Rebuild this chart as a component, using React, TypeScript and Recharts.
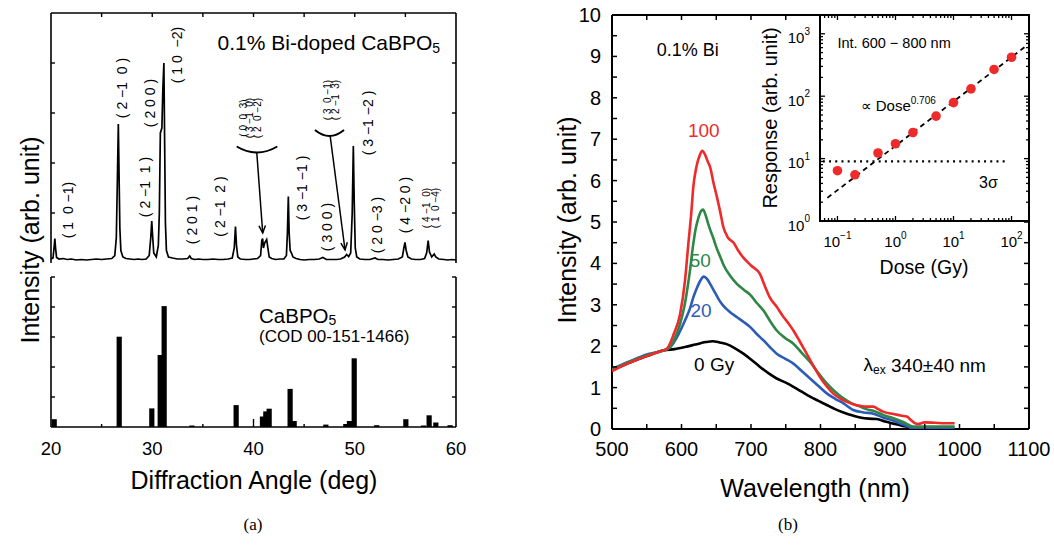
import React from 'react';
import {
  ComposedChart, Line, Bar, Scatter, XAxis, YAxis,
  ReferenceLine, ReferenceDot, ReferenceArea,
} from 'recharts';

const FONT = '"Liberation Sans", Arial, Helvetica, sans-serif';
const SERIF = '"Liberation Serif", "Times New Roman", serif';

// ---------------- (a) XRD data ----------------
const xrdMeasured: [number, number][] = [
  [20.0, 0.08], [20.2, 0.1], [20.3, 0.3], [20.38, 0.49], [20.45, 0.3], [20.55, 0.11],
  [20.8, 0.08], [21.2, 0.09], [21.6, 0.07], [22.0, 0.08], [22.5, 0.06], [23.0, 0.07],
  [23.5, 0.06], [24.0, 0.07], [24.5, 0.08], [25.0, 0.07], [25.5, 0.08], [26.0, 0.09],
  [26.3, 0.15], [26.45, 0.5], [26.55, 1.6], [26.65, 2.78], [26.72, 1.8], [26.8, 0.7],
  [26.9, 0.25], [27.1, 0.12], [27.4, 0.09], [27.8, 0.08], [28.2, 0.07], [28.6, 0.08],
  [29.0, 0.07], [29.4, 0.08], [29.7, 0.15], [29.85, 0.5], [29.95, 0.84], [30.05, 0.5],
  [30.15, 0.2], [30.4, 0.12], [30.6, 0.35], [30.7, 1.0], [30.8, 2.6], [30.95, 2.7],
  [31.05, 3.5], [31.15, 4.0], [31.22, 2.5], [31.3, 0.8], [31.4, 0.25], [31.6, 0.12],
  [32.0, 0.1], [32.5, 0.08], [33.0, 0.08], [33.5, 0.09], [33.7, 0.14], [33.85, 0.09],
  [34.2, 0.07], [34.6, 0.08], [35.0, 0.07], [35.5, 0.07], [36.0, 0.08], [36.5, 0.07],
  [37.0, 0.07], [37.5, 0.08], [37.9, 0.1], [38.1, 0.3], [38.22, 0.73], [38.32, 0.35],
  [38.45, 0.12], [38.7, 0.08], [39.2, 0.07], [39.6, 0.07], [40.0, 0.08], [40.4, 0.09],
  [40.7, 0.15], [40.82, 0.45], [40.9, 0.49], [40.98, 0.3], [41.1, 0.4], [41.3, 0.47],
  [41.42, 0.3], [41.55, 0.12], [41.8, 0.09], [42.2, 0.07], [42.6, 0.08], [43.0, 0.08],
  [43.25, 0.15], [43.35, 0.6], [43.44, 1.33], [43.52, 0.6], [43.62, 0.25], [43.75, 0.2],
  [43.9, 0.12], [44.2, 0.09], [44.6, 0.07], [45.0, 0.06], [45.5, 0.07], [46.0, 0.07],
  [46.5, 0.08], [46.85, 0.11], [47.2, 0.07], [47.7, 0.07], [48.2, 0.07], [48.6, 0.08],
  [49.0, 0.12], [49.2, 0.17], [49.4, 0.13], [49.6, 0.2], [49.75, 1.0], [49.86, 2.34],
  [49.95, 1.2], [50.05, 0.3], [50.2, 0.12], [50.5, 0.08], [51.0, 0.07], [51.5, 0.07],
  [52.0, 0.1], [52.3, 0.07], [52.8, 0.07], [53.3, 0.06], [53.8, 0.07], [54.3, 0.08],
  [54.7, 0.12], [54.85, 0.3], [54.96, 0.41], [55.08, 0.25], [55.25, 0.12], [55.6, 0.08],
  [56.0, 0.07], [56.5, 0.07], [56.9, 0.09], [57.1, 0.2], [57.25, 0.45], [57.38, 0.22],
  [57.6, 0.12], [57.85, 0.18], [58.0, 0.12], [58.3, 0.08], [58.8, 0.07], [59.2, 0.06],
  [59.6, 0.07], [60.0, 0.06],
];

const codAngle = [20.3, 26.72, 29.94, 30.77, 31.16, 33.9, 38.27, 40.87, 41.2, 41.53, 43.6, 44.0,
  47.13, 49.1, 49.46, 49.93, 52.16, 55.03, 56.77, 57.33, 57.99, 59.4];
const codIntensity = [0.26, 3.01, 0.62, 2.4, 4.03, 0.05, 0.73, 0.35, 0.52, 0.61, 1.27, 0.2,
  0.08, 0.1, 0.2, 2.29, 0.06, 0.26, 0.05, 0.39, 0.15, 0.06];

const xrdTopTicks = [25, 30, 35, 40, 45, 50, 55];
const xrdBottomTicks = [20, 25, 30, 35, 40, 45, 50, 55, 60];
const xrdTopYTicks = [1, 2, 3, 4];
const xrdBottomYTicks = [1, 2, 3, 4, 5];

type Hkl = { text: string; angle: number; level: number; small?: boolean };
const hklLabels: Hkl[] = [
  { text: '( 1  0 −1)', angle: 21.71, level: 1.06 },
  { text: '( 2 −1  0 )', angle: 26.98, level: 3.5 },
  { text: '( 2 −1  1 )', angle: 29.28, level: 1.52 },
  { text: '( 2 0 0 )', angle: 29.78, level: 3.2 },
  { text: '( 1 0  −2)', angle: 32.41, level: 4.16 },
  { text: '( 2 0 1 )', angle: 33.9, level: 0.86 },
  { text: '( 2 −1  2 )', angle: 36.69, level: 1.13 },
  { text: '( 0  0  3)', angle: 38.99, level: 2.9, small: true },
  { text: '( 3 −1  0)', angle: 39.65, level: 2.9, small: true },
  { text: '( 2  0 −2)', angle: 40.37, level: 2.9, small: true },
  { text: '( 3 −1 −1 )', angle: 44.76, level: 1.5 },
  { text: '( 3 0 0 )', angle: 47.23, level: 0.72 },
  { text: '( 3  0 −1)', angle: 47.33, level: 3.26, small: true },
  { text: '( 2 −1  3)', angle: 48.05, level: 3.26, small: true },
  { text: '( 3 −1 −2 )', angle: 51.34, level: 2.8 },
  { text: '( 2 0 −3 )', angle: 52.17, level: 0.76 },
  { text: '( 4 −2 0 )', angle: 54.96, level: 1.16 },
  { text: '( 4 −1  0)', angle: 57.1, level: 1.1, small: true },
  { text: '( 1  0 −4)', angle: 58.02, level: 1.1, small: true },
];

const braceSegments = [
  [{ x: 38.34, y: 2.33 }, { x: 42.35, y: 2.33 }],
  [{ x: 46.07, y: 2.66 }, { x: 48.94, y: 2.66 }],
];
const arrowSegments = [
  [{ x: 40.32, y: 2.22 }, { x: 40.91, y: 0.6 }],
  [{ x: 47.56, y: 2.56 }, { x: 49.04, y: 0.26 }],
];

// ---------------- (b) spectra data ----------------
const spec0Gy: [number, number][] = [
  [500, 1.42], [525, 1.6], [550, 1.76], [575, 1.9], [590, 1.93], [605, 1.98], [620, 2.04],
  [635, 2.1], [645, 2.12], [655, 2.09], [665, 2.05], [677, 1.95], [689, 1.82], [700, 1.68],
  [713, 1.5], [725, 1.35], [737, 1.22], [750, 1.12], [761, 1.02], [773, 0.9], [785, 0.78],
  [797, 0.68], [809, 0.58], [821, 0.48], [833, 0.4], [845, 0.33], [857, 0.28], [870, 0.25],
  [881, 0.24], [893, 0.18], [905, 0.13], [917, 0.08], [929, 0.04], [938, 0.01], [960, 0.0],
  [993, 0.0],
];
const spec20Gy: [number, number][] = [
  [500, 1.45], [525, 1.63], [550, 1.8], [570, 1.88], [584, 1.98], [596, 2.3], [605, 2.62],
  [612, 2.9], [617, 3.18], [622, 3.4], [627, 3.58], [632, 3.68], [637, 3.62], [642, 3.48],
  [648, 3.3], [654, 3.12], [660, 2.98], [670, 2.82], [680, 2.7], [690, 2.58], [699, 2.46],
  [708, 2.3], [718, 2.14], [727, 1.98], [737, 1.82], [749, 1.7], [761, 1.58], [773, 1.4],
  [785, 1.22], [797, 1.04], [809, 0.86], [821, 0.73], [833, 0.62], [847, 0.46], [862, 0.4],
  [876, 0.37], [890, 0.28], [905, 0.2], [919, 0.11], [933, 0.02], [945, 0.02], [993, 0.02],
];
const spec50Gy: [number, number][] = [
  [500, 1.43], [525, 1.62], [550, 1.78], [570, 1.88], [580, 1.93], [589, 2.14], [598, 2.54],
  [604, 2.95], [608, 3.34], [612, 3.8], [616, 4.35], [620, 4.8], [624, 5.08], [628, 5.26],
  [631, 5.3], [634, 5.2], [638, 4.98], [642, 4.78], [646, 4.6], [651, 4.35], [656, 4.15],
  [660, 3.98], [670, 3.7], [680, 3.5], [690, 3.36], [699, 3.24], [708, 3.05], [718, 2.86],
  [727, 2.62], [737, 2.38], [749, 2.2], [761, 2.06], [773, 1.84], [785, 1.62], [797, 1.35],
  [809, 1.1], [821, 0.9], [833, 0.74], [845, 0.62], [857, 0.54], [866, 0.48], [876, 0.44],
  [890, 0.34], [905, 0.26], [919, 0.17], [933, 0.06], [945, 0.06], [993, 0.06],
];
const spec100Gy: [number, number][] = [
  [500, 1.4], [525, 1.6], [550, 1.76], [570, 1.88], [579, 1.94], [589, 2.3], [598, 2.78],
  [605, 3.58], [610, 4.5], [614, 5.2], [617, 5.85], [621, 6.3], [626, 6.6], [630, 6.72],
  [634, 6.62], [638, 6.45], [641, 6.34], [646, 5.95], [651, 5.6], [656, 5.22], [660, 4.89],
  [667, 4.62], [675, 4.5], [682, 4.3], [689, 4.14], [700, 3.95], [713, 3.74], [720, 3.45],
  [727, 3.18], [737, 2.95], [747, 2.7], [754, 2.55], [761, 2.38], [770, 2.12], [780, 1.82],
  [790, 1.52], [799, 1.26], [808, 1.05], [818, 0.86], [828, 0.74], [837, 0.66], [847, 0.6],
  [857, 0.56], [866, 0.54], [876, 0.54], [883, 0.48], [890, 0.42], [905, 0.36], [917, 0.32],
  [924, 0.3], [930, 0.22], [935, 0.15], [940, 0.12], [950, 0.16], [965, 0.15], [980, 0.14],
  [993, 0.14],
];
const wlTicks = [500, 550, 600, 650, 700, 750, 800, 850, 900, 950, 1000, 1050, 1100];
const intTicks = [0, 0.5, 1, 1.5, 2, 2.5, 3, 3.5, 4, 4.5, 5, 5.5, 6, 6.5, 7, 7.5, 8, 8.5, 9, 9.5, 10];

// inset
const doseGy = [0.1, 0.2, 0.5, 1, 2, 5, 10, 20, 50, 100];
const responseVal = [6.4, 5.5, 12.3, 17.3, 26.2, 48, 79, 131, 268, 421];
const fitLine: [number, number][] = [[0.067, 2.35], [181, 643]];
const sigmaLine: [number, number][] = [[0.056, 9.0], [85, 9.0]];
const doseDecades = [0.1, 1, 10, 100];
const respDecades = [1, 10, 100, 1000];
const doseTicks = [0.05, 0.06, 0.07, 0.08, 0.09, 0.1, 0.2, 0.3, 0.4, 0.5, 0.6, 0.7, 0.8, 0.9,
  1, 2, 3, 4, 5, 6, 7, 8, 9, 10, 20, 30, 40, 50, 60, 70, 80, 90, 100, 200];
const respTicks = [1, 2, 3, 4, 5, 6, 7, 8, 9, 10, 20, 30, 40, 50, 60, 70, 80, 90,
  100, 200, 300, 400, 500, 600, 700, 800, 900, 1000, 2000];
const decadeExp: Record<string, string> = { '0.1': '−1', '1': '0', '10': '1', '100': '2', '1000': '3' };

const toXY = (arr: [number, number][]) => arr.map(([x, y]) => ({ x, y }));
const xrdTopData = toXY(xrdMeasured);
const codData = codAngle.map((x, i) => ({ x, y: codIntensity[i] }));
const d0 = toXY(spec0Gy), d20 = toXY(spec20Gy), d50 = toXY(spec50Gy), d100 = toXY(spec100Gy);
const doseData = doseGy.map((x, i) => ({ x, y: responseVal[i] }));
const fitData = toXY(fitLine), sigmaData = toXY(sigmaLine);

// ---------------- geometry (chart-local pixels) ----------------
const LT = { left: 51, right: 456, top: 13, bottom: 263 };
const LB = { left: 51, right: 456, top: 12, bottom: 162 };
const RM = { left: 72, right: 489, top: 15, bottom: 429 };
const RI = { left: 80, right: 289, top: 15, bottom: 221 };

const K = '#000';
const RED = '#ee2a2a', GREEN = '#2e8744', BLUE = '#2d5cb8';
const PRE = { whiteSpace: 'pre' as const };

const ltXTick = (p: any) => (
  <line x1={p.x} x2={p.x} y1={LT.top} y2={LT.top + 4} stroke={K} strokeWidth={1.4} />
);
const ltYTick = (p: any) => (
  <g>
    <line x1={LT.left} x2={LT.left + 4} y1={p.y} y2={p.y} stroke={K} strokeWidth={1.4} />
    <line x1={LT.right} x2={LT.right - 4} y1={p.y} y2={p.y} stroke={K} strokeWidth={1.4} />
  </g>
);
const lbXTick = (p: any) => {
  const v = p.payload.value;
  const major = v % 10 === 0;
  return (
    <g>
      {v > 20 && v < 60 && (
        <line x1={p.x} x2={p.x} y1={LB.bottom} y2={LB.bottom - (major ? 8 : 3)} stroke={K} strokeWidth={1.4} />
      )}
      {major && (
        <text x={p.x} y={LB.bottom + 21} textAnchor="middle" dominantBaseline="central"
          fontFamily={FONT} fontSize={18.5} fill={K}>{v}</text>
      )}
    </g>
  );
};
const lbYTick = (p: any) => (
  <g>
    <line x1={LB.left} x2={LB.left + 4} y1={p.y} y2={p.y} stroke={K} strokeWidth={1.4} />
    <line x1={LB.right} x2={LB.right - 4} y1={p.y} y2={p.y} stroke={K} strokeWidth={1.4} />
  </g>
);

const rmXTick = (p: any) => {
  const v = p.payload.value;
  return (
    <g>
      {v > 500 && v < 1100 && (
        <>
          <line x1={p.x} x2={p.x} y1={RM.bottom} y2={RM.bottom - 5} stroke={K} strokeWidth={1.5} />
          <line x1={p.x} x2={p.x} y1={RM.top} y2={RM.top + 5} stroke={K} strokeWidth={1.5} />
        </>
      )}
      {v % 100 === 0 && (
        <text x={p.x} y={449} textAnchor="middle" dominantBaseline="central"
          fontFamily={FONT} fontSize={20} fill={K}>{v}</text>
      )}
    </g>
  );
};
const rmYTick = (p: any) => {
  const v = p.payload.value;
  return (
    <g>
      {v > 0 && v < 10 && (
        <>
          <line x1={RM.left} x2={RM.left + 5} y1={p.y} y2={p.y} stroke={K} strokeWidth={1.5} />
          <line x1={RM.right} x2={RM.right - 5} y1={p.y} y2={p.y} stroke={K} strokeWidth={1.5} />
        </>
      )}
      {Number.isInteger(v) && (
        <text x={61} y={p.y} textAnchor="end" dominantBaseline="central"
          fontFamily={FONT} fontSize={20} fill={K}>{v}</text>
      )}
    </g>
  );
};

const riXTick = (p: any) => {
  const v = p.payload.value;
  const major = doseDecades.includes(v);
  const len = major ? 5 : 3;
  return (
    <g>
      <line x1={p.x} x2={p.x} y1={RI.bottom} y2={RI.bottom - len} stroke={K} strokeWidth={1.3} />
      <line x1={p.x} x2={p.x} y1={RI.top} y2={RI.top + len} stroke={K} strokeWidth={1.3} />
      {major && (
        <text x={p.x} y={241} textAnchor="middle" dominantBaseline="central"
          fontFamily={FONT} fontSize={15} fill={K}>
          10<tspan dy={-6} fontSize={10}>{decadeExp[String(v)]}</tspan>
        </text>
      )}
    </g>
  );
};
const riYTick = (p: any) => {
  const v = p.payload.value;
  const major = respDecades.includes(v);
  const len = major ? 5 : 3;
  return (
    <g>
      <line x1={RI.left} x2={RI.left + len} y1={p.y} y2={p.y} stroke={K} strokeWidth={1.3} />
      <line x1={RI.right} x2={RI.right - len} y1={p.y} y2={p.y} stroke={K} strokeWidth={1.3} />
      {major && (
        <text x={70} y={p.y + 4} textAnchor="end" dominantBaseline="central"
          fontFamily={FONT} fontSize={15} fill={K}>
          10<tspan dy={-7} fontSize={10}>{decadeExp[String(v)]}</tspan>
        </text>
      )}
    </g>
  );
};

const arrowShape = (p: any) => {
  const { x1, y1, x2, y2 } = p;
  const ang = Math.atan2(y2 - y1, x2 - x1);
  const L = 8, w = 0.42;
  const ax = x2 - L * Math.cos(ang - w), ay = y2 - L * Math.sin(ang - w);
  const bx = x2 - L * Math.cos(ang + w), by = y2 - L * Math.sin(ang + w);
  return (
    <g>
      <line x1={x1} y1={y1} x2={x2} y2={y2} stroke={K} strokeWidth={1.5} />
      <polyline points={`${ax},${ay} ${x2},${y2} ${bx},${by}`} fill="none" stroke={K} strokeWidth={1.5} />
    </g>
  );
};
const braceShape = (p: any) => {
  const { x1, y1, x2, y2 } = p;
  return (
    <path d={`M${x1},${y1} Q${(x1 + x2) / 2},${y1 + 12} ${x2},${y2}`} fill="none" stroke={K} strokeWidth={2} />
  );
};

const textAt = (content: React.ReactNode, opts: any = {}) => (p: any) => (
  <text x={p.cx} y={p.cy} textAnchor={opts.anchor || 'middle'} dominantBaseline="central"
    fontFamily={opts.family || FONT} fontSize={opts.size || 16} fill={opts.color || K} style={PRE}
    transform={opts.rotate ? `rotate(-90 ${p.cx} ${p.cy})` : undefined}>
    {content}
  </text>
);

const Title = ({ x, y, text, size, rotate, family }: any) => (
  <div style={{
    position: 'absolute', left: x, top: y, whiteSpace: 'nowrap', lineHeight: 1,
    transform: `translate(-50%, -50%)${rotate ? ' rotate(-90deg)' : ''}`,
    fontFamily: family || FONT, fontSize: size, color: '#000',
  }}>{text}</div>
);

export default function App() {
  return (
    <div style={{ position: 'absolute', left: 0, top: 0, width: 1054, height: 545, background: '#fff', overflow: 'hidden' }}>
      {/* (a) top: measured pattern */}
      <div style={{ position: 'absolute', left: 0, top: 0 }}>
        <ComposedChart width={470} height={275} margin={{ top: 12, left: 50, right: 14, bottom: 12 }}>
          <XAxis dataKey="x" type="number" domain={[20, 60]} allowDataOverflow orientation="top" height={1}
            ticks={xrdTopTicks} interval={0} axisLine={false} tickLine={false} tick={ltXTick} />
          <YAxis type="number" domain={[0, 5]} allowDataOverflow width={1} ticks={xrdTopYTicks} interval={0}
            axisLine={false} tickLine={false} tick={ltYTick} />
          <ReferenceLine x={20} stroke={K} strokeWidth={1.6} />
          <ReferenceLine x={60} stroke={K} strokeWidth={1.6} />
          <ReferenceLine y={5} stroke={K} strokeWidth={1.6} />
          <Line data={xrdTopData} dataKey="y" type="linear" stroke={K} strokeWidth={1.7} dot={false}
            isAnimationActive={false} />
          {hklLabels.map((h, i) => (
            <ReferenceDot key={i} x={h.angle} y={h.level} r={1}
              shape={textAt(h.text, { rotate: true, size: h.small ? 10 : 14 })} />
          ))}
          {braceSegments.map((s, i) => (
            <ReferenceLine key={'b' + i} segment={s as any} shape={braceShape} />
          ))}
          {arrowSegments.map((s, i) => (
            <ReferenceLine key={'a' + i} segment={s as any} shape={arrowShape} />
          ))}
          <ReferenceDot x={36.45} y={4.41} r={1}
            shape={textAt(<>0.1% Bi-doped CaBPO<tspan dy={5} fontSize={14}>5</tspan></>, { anchor: 'start', size: 21 })} />
        </ComposedChart>
      </div>

      {/* (a) bottom: COD reference */}
      <div style={{ position: 'absolute', left: 0, top: 265 }}>
        <ComposedChart width={470} height={280} data={codData} margin={{ top: 12, left: 50, right: 14, bottom: 117 }}>
          <XAxis dataKey="x" type="number" domain={[20, 60]} allowDataOverflow height={1}
            ticks={xrdBottomTicks} interval={0} axisLine={false} tickLine={false} tick={lbXTick} />
          <YAxis type="number" domain={[0, 5]} allowDataOverflow width={1} ticks={xrdBottomYTicks} interval={0}
            axisLine={false} tickLine={false} tick={lbYTick} />
          <ReferenceLine x={20} stroke={K} strokeWidth={1.6} />
          <ReferenceLine x={60} stroke={K} strokeWidth={1.6} />
          <ReferenceLine y={0} stroke={K} strokeWidth={1.6} />
          <Bar dataKey="y" fill={K} isAnimationActive={false}
            shape={(p: any) => (
              <rect x={p.x + p.width / 2 - 2.6} y={p.y} width={5.2} height={Math.max(0, p.height)} fill={K} />
            )} />
          <ReferenceDot x={40.55} y={3.73} r={1}
            shape={textAt(<>CaBPO<tspan dy={5} fontSize={14}>5</tspan></>, { anchor: 'start', size: 20.5 })} />
          <ReferenceDot x={40.55} y={3.02} r={1}
            shape={textAt('(COD 00-151-1466)', { anchor: 'start', size: 17 })} />
        </ComposedChart>
      </div>

      {/* (b) main spectra */}
      <div style={{ position: 'absolute', left: 540, top: 0 }}>
        <ComposedChart width={514} height={545} margin={{ top: 15, left: 71, right: 25, bottom: 115 }}>
          <XAxis dataKey="x" type="number" domain={[500, 1100]} allowDataOverflow height={1}
            ticks={wlTicks} interval={0} axisLine={false} tickLine={false} tick={rmXTick} />
          <YAxis type="number" domain={[0, 10]} allowDataOverflow width={1} ticks={intTicks} interval={0}
            axisLine={false} tickLine={false} tick={rmYTick} />
          <ReferenceLine x={500} stroke={K} strokeWidth={2} />
          <ReferenceLine x={1100} stroke={K} strokeWidth={2} />
          <ReferenceLine y={0} stroke={K} strokeWidth={2} />
          <ReferenceLine y={10} stroke={K} strokeWidth={2} />
          <Line data={d0} dataKey="y" type="monotone" stroke={K} strokeWidth={2.6} dot={false} isAnimationActive={false} />
          <Line data={d20} dataKey="y" type="monotone" stroke={BLUE} strokeWidth={2.6} dot={false} isAnimationActive={false} />
          <Line data={d50} dataKey="y" type="monotone" stroke={GREEN} strokeWidth={2.6} dot={false} isAnimationActive={false} />
          <Line data={d100} dataKey="y" type="monotone" stroke={RED} strokeWidth={2.6} dot={false} isAnimationActive={false} />
          <ReferenceDot x={609} y={9.15} r={1} shape={textAt('0.1% Bi', { size: 18 })} />
          <ReferenceDot x={632} y={7.22} r={1} shape={textAt('100', { size: 19, color: RED })} />
          <ReferenceDot x={627} y={4.08} r={1} shape={textAt('50', { size: 19, color: GREEN })} />
          <ReferenceDot x={628} y={2.87} r={1} shape={textAt('20', { size: 19, color: BLUE })} />
          <ReferenceDot x={647} y={1.55} r={1} shape={textAt('0 Gy', { size: 19 })} />
          <ReferenceDot x={950} y={1.55} r={1}
            shape={textAt(<>λ<tspan dy={5} fontSize={12}>ex</tspan><tspan dy={-5}> 340±40 nm</tspan></>, { size: 19 })} />
        </ComposedChart>
      </div>

      {/* (b) inset */}
      <div style={{ position: 'absolute', left: 740, top: 0 }}>
        <ComposedChart width={314} height={290} margin={{ top: 15, left: 79, right: 25, bottom: 68 }}>
          <ReferenceArea x1={0.05} x2={200} y1={1} y2={2000} fill="#fff" fillOpacity={1} stroke={K} strokeWidth={2} />
          <XAxis dataKey="x" type="number" scale="log" domain={[0.05, 200]} allowDataOverflow height={1}
            ticks={doseTicks} interval={0} axisLine={false} tickLine={false} tick={riXTick} />
          <YAxis type="number" scale="log" domain={[1, 2000]} allowDataOverflow width={1} ticks={respTicks}
            interval={0} axisLine={false} tickLine={false} tick={riYTick} />
          <Line data={sigmaData} dataKey="y" type="linear" stroke={K} strokeWidth={2.2} strokeDasharray="2 4.2"
            dot={false} isAnimationActive={false} />
          <Line data={fitData} dataKey="y" type="linear" stroke={K} strokeWidth={1.8} strokeDasharray="5 4"
            dot={false} isAnimationActive={false} />
          <Scatter data={doseData} dataKey="y" fill={RED} isAnimationActive={false}
            shape={(p: any) => <circle cx={p.cx} cy={p.cy} r={4.8} fill={RED} />} />
          <ReferenceDot x={0.1} y={718} r={1} shape={textAt('Int. 600 − 800 nm', { anchor: 'start', size: 14.5 })} />
          <ReferenceDot x={0.25} y={70} r={1}
            shape={textAt(<>∝ Dose<tspan dy={-6} fontSize={10}>0.706</tspan></>, { anchor: 'start', size: 15 })} />
          <ReferenceDot x={40} y={4.2} r={1} shape={textAt('3σ', { size: 16 })} />
        </ComposedChart>
      </div>

      <Title x={30} y={240} text="Intensity (arb. unit)" size={25} rotate />
      <Title x={254} y={480} text="Diffraction Angle (deg)" size={25} />
      <Title x={253} y={524} text="(a)" size={17} family={SERIF} />
      <Title x={567} y={220} text="Intensity (arb. unit)" size={25} rotate />
      <Title x={815} y={488} text="Wavelength (nm)" size={25} />
      <Title x={788} y={524} text="(b)" size={17} family={SERIF} />
      <Title x={770} y={118} text="Response (arb. unit)" size={20} rotate />
      <Title x={924} y={268} text="Dose (Gy)" size={19.5} />
    </div>
  );
}
